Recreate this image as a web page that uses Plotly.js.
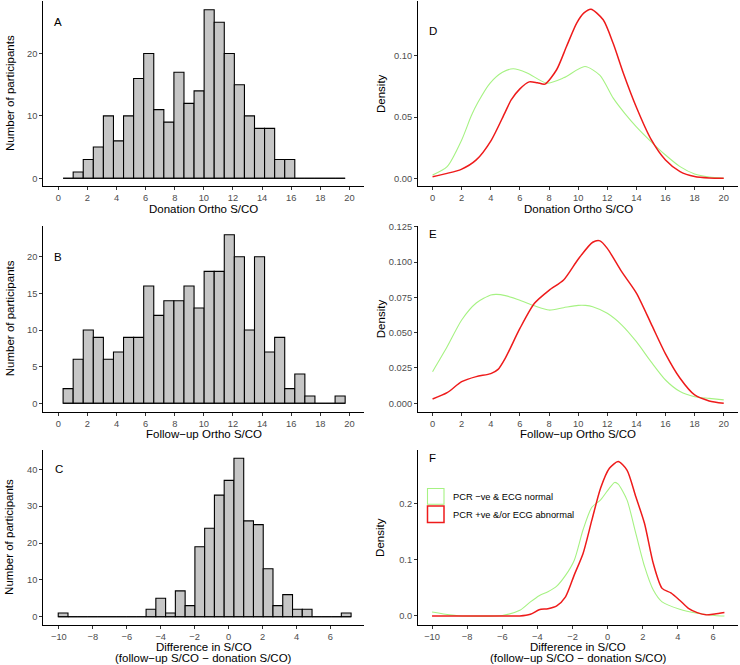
<!DOCTYPE html>
<html>
<head>
<meta charset="utf-8">
<script src="https://cdn.plot.ly/plotly-3.0.1.min.js"></script>
<style>
  html, body { margin: 0; padding: 0; background: #fff; }
  #chart { width: 740px; height: 665px; }
</style>
</head>
<body>
<div id="chart"></div>
<script>
// histogram bins for the Ortho S/CO panels (A and B share them)
var orthoBinStart = 0.33;
var orthoBinWidth = 0.692;
var donationCounts = [0, 1, 3, 5, 10, 6, 10, 16, 20, 11, 9, 17, 12, 14, 27, 25, 20, 15, 10, 8, 8, 3, 3, 0, 0, 0, 0, 0];
var followupCounts = [2, 6, 10, 9, 6, 7, 9, 9, 16, 12, 14, 14, 16, 13, 18, 18, 23, 20, 10, 20, 7, 9, 2, 4, 1, 0, 0, 1];

// histogram bins for the difference panel (C)
var diffBinStart = -10.04;
var diffBinWidth = 0.5753;
var diffCounts = [1, 0, 0, 0, 0, 0, 0, 0, 0, 2, 5, 1, 7, 3, 19, 24, 33, 37, 43, 26, 25, 13, 3, 6, 2, 2, 0, 0, 0, 1];

// density curves
var donNegX = [0, 1, 2, 2.66, 3.12, 3.94, 4.8, 5.54, 6.5, 7.84, 9, 10.47, 11.5, 12.41, 13.2, 14, 15, 16, 17, 18, 19, 20];
var donNegY = [0.0027, 0.0095, 0.0313, 0.051, 0.062, 0.0775, 0.0865, 0.0894, 0.086, 0.0777, 0.082, 0.0912, 0.084, 0.0654, 0.053, 0.042, 0.030, 0.019, 0.0095, 0.0035, 0.001, 0.0];
var donPosX = [0, 1, 1.97, 3, 4.03, 4.95, 5.4, 6, 6.64, 7.2, 7.72, 8.52, 9.2, 9.9, 10.4, 10.88, 11.72, 12.41, 13.1, 14, 15, 16, 17, 18, 19, 20];
var donPosY = [0.0013, 0.004, 0.0073, 0.015, 0.031, 0.053, 0.064, 0.073, 0.0787, 0.078, 0.0769, 0.0886, 0.1076, 0.1267, 0.135, 0.138, 0.1294, 0.110, 0.086, 0.058, 0.032, 0.015, 0.0055, 0.0015, 0.0003, 0.0];

var fupNegX = [0, 1, 2, 3, 4, 4.4, 5, 6, 7, 8, 9, 10, 10.5, 11, 12, 13, 14, 15, 16, 17, 18, 19, 20];
var fupNegY = [0.0224, 0.040, 0.059, 0.071, 0.0767, 0.0771, 0.0762, 0.073, 0.069, 0.066, 0.0677, 0.0693, 0.0693, 0.0684, 0.0637, 0.0554, 0.0436, 0.0295, 0.0165, 0.0083, 0.0047, 0.0035, 0.0024];
var fupPosX = [0, 1, 2, 3, 4, 4.5, 5, 6, 7, 8, 9, 10, 11, 11.5, 12, 13, 14, 15, 16, 17, 18, 19, 20];
var fupPosY = [0.003, 0.0075, 0.0153, 0.0189, 0.021, 0.024, 0.032, 0.053, 0.0708, 0.080, 0.0873, 0.102, 0.114, 0.115, 0.1097, 0.093, 0.078, 0.0566, 0.035, 0.0177, 0.0059, 0.0017, 0.0];

var diffNegX = [-10, -9, -8.5, -6, -5, -4.4, -3.9, -3.4, -2.9, -2.4, -1.9, -1.4, -0.9, -0.4, 0.1, 0.4, 0.6, 1.1, 1.6, 2.1, 2.6, 3.1, 4.1, 5.1, 6.1, 6.65];
var diffNegY = [0.007, 0.002, 0.0005, 0.001, 0.010, 0.025, 0.036, 0.043, 0.053, 0.072, 0.099, 0.153, 0.193, 0.206, 0.227, 0.237, 0.234, 0.206, 0.147, 0.088, 0.046, 0.025, 0.012, 0.005, 0.001, 0.0];
var diffPosX = [-10, -6, -5, -4.4, -3.9, -3.4, -2.9, -2.4, -1.9, -1.4, -0.9, -0.4, 0.1, 0.6, 1.1, 1.6, 2.1, 2.6, 3.1, 3.6, 4.1, 4.6, 5.1, 5.6, 6.1, 6.65];
var diffPosY = [0.0, 0.0, 0.0, 0.003, 0.011, 0.013, 0.018, 0.034, 0.073, 0.111, 0.170, 0.227, 0.262, 0.274, 0.259, 0.212, 0.164, 0.093, 0.049, 0.041, 0.028, 0.0136, 0.006, 0.002, 0.0036, 0.006];

var legendNames = ['PCR \u2212ve & ECG normal', 'PCR +ve &/or ECG abnormal'];
var panelLetters = ['A', 'B', 'C', 'D', 'E', 'F'];

var negColor = '#a6f283';
var posColor = '#ee1b1b';
var font = 'Liberation Sans, Arial, Helvetica, sans-serif';
var W = 740, H = 665;

function centers(start, width, counts) {
  return counts.map(function(c, i) { return start + width * (i + 0.5); });
}

function histTraces(start, width, counts, xa, ya) {
  var end = start + width * counts.length;
  return [
    {type: 'scatter', mode: 'lines', x: [start, end], y: [0, 0], xaxis: xa, yaxis: ya,
     line: {color: 'black', width: 1.1}, hoverinfo: 'skip'},
    {type: 'bar', x: centers(start, width, counts), y: counts, width: width, xaxis: xa, yaxis: ya,
     marker: {color: '#c6c6c6', line: {color: 'black', width: 1.1}}}
  ];
}

function densTraces(nx, ny, px, py, xa, ya) {
  return [
    {type: 'scatter', mode: 'lines', x: nx, y: ny, xaxis: xa, yaxis: ya, name: legendNames[0],
     line: {color: negColor, width: 1.1, shape: 'spline', smoothing: 0.7}},
    {type: 'scatter', mode: 'lines', x: px, y: py, xaxis: xa, yaxis: ya, name: legendNames[1],
     line: {color: posColor, width: 1.5, shape: 'spline', smoothing: 0.7}}
  ];
}

var data = [].concat(
  histTraces(orthoBinStart, orthoBinWidth, donationCounts, 'x', 'y'),
  densTraces(donNegX, donNegY, donPosX, donPosY, 'x2', 'y2'),
  histTraces(orthoBinStart, orthoBinWidth, followupCounts, 'x3', 'y3'),
  densTraces(fupNegX, fupNegY, fupPosX, fupPosY, 'x4', 'y4'),
  histTraces(diffBinStart, diffBinWidth, diffCounts, 'x5', 'y5'),
  densTraces(diffNegX, diffNegY, diffPosX, diffPosY, 'x6', 'y6')
);

// pixel boxes of the panels
var leftDom = [43.3 / W, 364 / W];
var rightDom = [418 / W, 738.3 / W];
var row1 = [1 - 186 / H, 1 - 1.4 / H];
var row2 = [1 - 411.5 / H, 1 - 226.3 / H];
var row3 = [1 - 624.5 / H, 1 - 450.3 / H];

var tickFont = {family: font, size: 9.3, color: '#4d4d4d'};

function axis(domain, range, dtick, anchor, fmt) {
  return {
    domain: domain, range: range, anchor: anchor, tick0: 0, dtick: dtick,
    tickformat: fmt || '', showgrid: false, zeroline: false,
    showline: true, linecolor: 'black', linewidth: 1,
    ticks: 'outside', ticklen: 3, tickwidth: 1, tickcolor: '#333',
    tickfont: tickFont, fixedrange: true
  };
}

function ann(text, x, y, opts) {
  var a = {text: text, x: x, y: y, xref: 'paper', yref: 'paper', showarrow: false,
           xanchor: 'center', yanchor: 'middle', font: {family: font, size: 11.5, color: 'black'}};
  for (var k in opts) a[k] = opts[k];
  return a;
}

function px(x) { return x / W; }
function py(y) { return 1 - y / H; }

var annotations = [
  ann('Number of participants', px(9.5), py(93.5), {textangle: -90}),
  ann('Number of participants', px(9.5), py(318.7), {textangle: -90}),
  ann('Number of participants', px(9.5), py(537.4), {textangle: -90}),
  ann('Density', px(380.5), py(93.5), {textangle: -90}),
  ann('Density', px(380.5), py(318.7), {textangle: -90}),
  ann('Density', px(380.5), py(537.4), {textangle: -90}),
  ann('Donation Ortho S/CO', px(203.6), py(209)),
  ann('Donation Ortho S/CO', px(578.2), py(209)),
  ann('Follow\u2212up Ortho S/CO', px(203.6), py(433.5)),
  ann('Follow\u2212up Ortho S/CO', px(578.2), py(433.5)),
  ann('Difference in S/CO', px(203.6), py(646.5)),
  ann('(follow\u2212up S/CO \u2212 donation S/CO)', px(203.6), py(658)),
  ann('Difference in S/CO', px(578.2), py(646.5)),
  ann('(follow\u2212up S/CO \u2212 donation S/CO)', px(578.2), py(658)),
  // panel letters at data coordinates
  ann(panelLetters[0], 0, 25, {xref: 'x', yref: 'y'}),
  ann(panelLetters[1], 0, 20, {xref: 'x3', yref: 'y3'}),
  ann(panelLetters[2], -10, 40, {xref: 'x5', yref: 'y5'}),
  ann(panelLetters[3], 0, 0.12, {xref: 'x2', yref: 'y2'}),
  ann(panelLetters[4], 0, 0.12, {xref: 'x4', yref: 'y4'}),
  ann(panelLetters[5], -10, 0.28, {xref: 'x6', yref: 'y6'}),
  // legend labels
  ann(legendNames[0], px(450.7), py(496.8), {xanchor: 'left', font: {family: font, size: 9.3, color: 'black'}}),
  ann(legendNames[1], px(450.7), py(514.5), {xanchor: 'left', font: {family: font, size: 9.3, color: 'black'}})
];

var shapes = [
  {type: 'rect', xref: 'paper', yref: 'paper', x0: px(427.5), x1: px(444), y0: py(504.3), y1: py(488.5),
   line: {color: negColor, width: 1.1}, fillcolor: 'white'},
  {type: 'rect', xref: 'paper', yref: 'paper', x0: px(427.5), x1: px(444), y0: py(522.5), y1: py(506),
   line: {color: posColor, width: 1.5}, fillcolor: 'white'}
];

var layout = {
  width: W, height: H,
  margin: {l: 0, r: 0, t: 0, b: 0},
  paper_bgcolor: 'white', plot_bgcolor: 'white',
  showlegend: false, bargap: 0, hovermode: false,
  font: {family: font},
  xaxis: axis(leftDom, [-1.03, 21.0], 2, 'y'),
  yaxis: axis(row1, [-1.24, 28.35], 10, 'x'),
  xaxis2: axis(rightDom, [-1, 21], 2, 'y2'),
  yaxis2: axis(row1, [-0.0063, 0.1444], 0.05, 'x2', '.2f'),
  xaxis3: axis(leftDom, [-1.03, 21.0], 2, 'y3'),
  yaxis3: axis(row2, [-1.12, 24.15], 5, 'x3'),
  xaxis4: axis(rightDom, [-1, 21], 2, 'y4'),
  yaxis4: axis(row2, [-0.0058, 0.1253], 0.025, 'x4', '.3f'),
  xaxis5: axis(leftDom, [-10.92, 7.98], 2, 'y5'),
  yaxis5: axis(row3, [-2.12, 45.16], 10, 'x5'),
  xaxis6: axis(rightDom, [-10.80, 7.44], 2, 'y6'),
  yaxis6: axis(row3, [-0.0151, 0.294], 0.1, 'x6', '.1f'),
  annotations: annotations,
  shapes: shapes
};

Plotly.newPlot('chart', data, layout, {displayModeBar: false, staticPlot: true});
</script>
</body>
</html>
